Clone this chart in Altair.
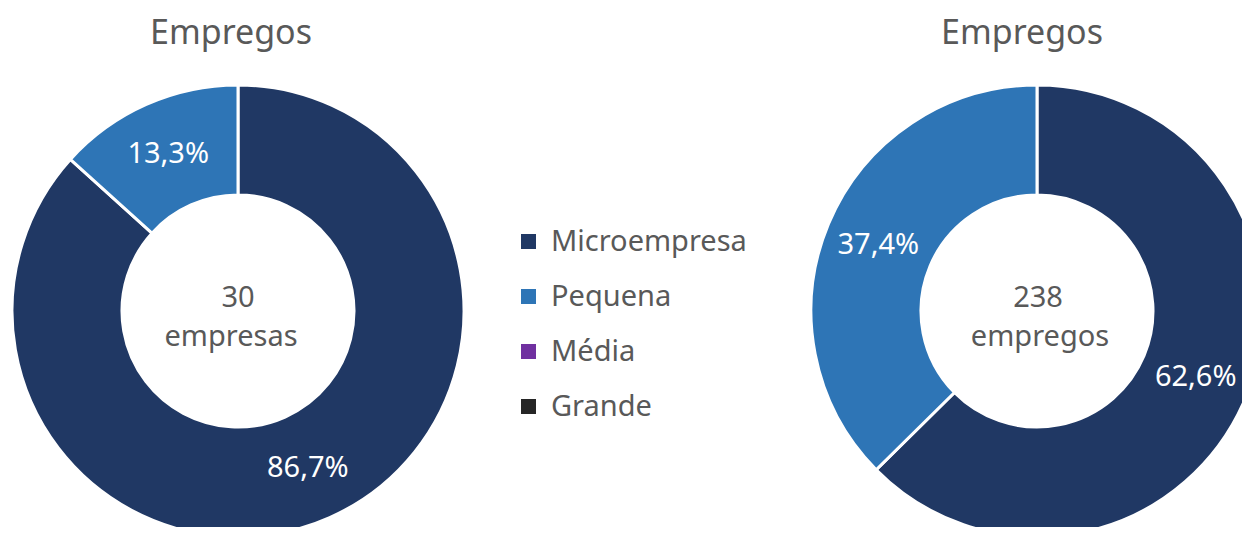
import altair as alt
import pandas as pd

FONT = "Noto Sans"
GREY = "#595959"

categories = ["Microempresa", "Pequena", "Média", "Grande"]
colors = ["#203864", "#2E75B6", "#7030A0", "#262626"]
left_values = [86.7, 13.3, 0, 0]
right_values = [62.6, 37.4, 0, 0]
left_labels = ["86,7%", "13,3%", "", ""]
right_labels = ["62,6%", "37,4%", "", ""]
titles = ["Empregos", "Empregos"]
center_numbers = ["30", "238"]
center_units = ["empresas", "empregos"]

color_scale = alt.Scale(domain=categories, range=colors)


def donut(values, labels, cx, cy, show_legend):
    df = pd.DataFrame({
        "category": categories,
        "value": values,
        "label": labels,
        "idx": list(range(len(categories))),
    })
    base = alt.Chart(df).transform_filter("datum.value > 0").encode(
        theta=alt.Theta("value:Q", stack=True),
        order=alt.Order("idx:Q"),
        x=alt.value(cx),
        y=alt.value(cy),
    )
    legend = None
    if show_legend:
        legend = alt.Legend(
            title=None, orient="none", legendX=506, legendY=219,
            symbolType="square", symbolSize=225, symbolStrokeWidth=0,
            labelFontSize=29, labelFont=FONT, labelColor=GREY, labelLimit=400,
            labelOffset=8, rowPadding=25, padding=0,
        )
    arcs = base.mark_arc(innerRadius=116, outerRadius=226, stroke="white", strokeWidth=3).encode(
        color=alt.Color("category:N", scale=color_scale, legend=legend)
    )
    texts = base.mark_text(radius=172, fontSize=29, font=FONT, color="white").encode(
        detail="category:N",
        text="label:N",
    )
    return arcs, texts


def text_layer(txt, x, y, size):
    return alt.Chart(pd.DataFrame({"t": [txt]})).mark_text(
        fontSize=size, font=FONT, color=GREY, align="center", baseline="middle"
    ).encode(text="t:N", x=alt.value(x), y=alt.value(y))


la, lt = donut(left_values, left_labels, 230, 303, True)
ra, rt = donut(right_values, right_labels, 1029, 303, False)

chart = alt.layer(
    la, lt, ra, rt,
    text_layer(titles[0], 223, 26, 34),
    text_layer(titles[1], 1014, 26, 34),
    text_layer(center_numbers[0], 230, 290, 29),
    text_layer(center_units[0], 223, 329, 29),
    text_layer(center_numbers[1], 1030, 290, 29),
    text_layer(center_units[1], 1032, 329, 29),
).properties(
    width=1234, height=519, padding=0, autosize=alt.AutoSizeParams(type="none")
).configure_view(stroke=None)

chart.save("out.html", embed_options={"renderer": "svg", "actions": False})
